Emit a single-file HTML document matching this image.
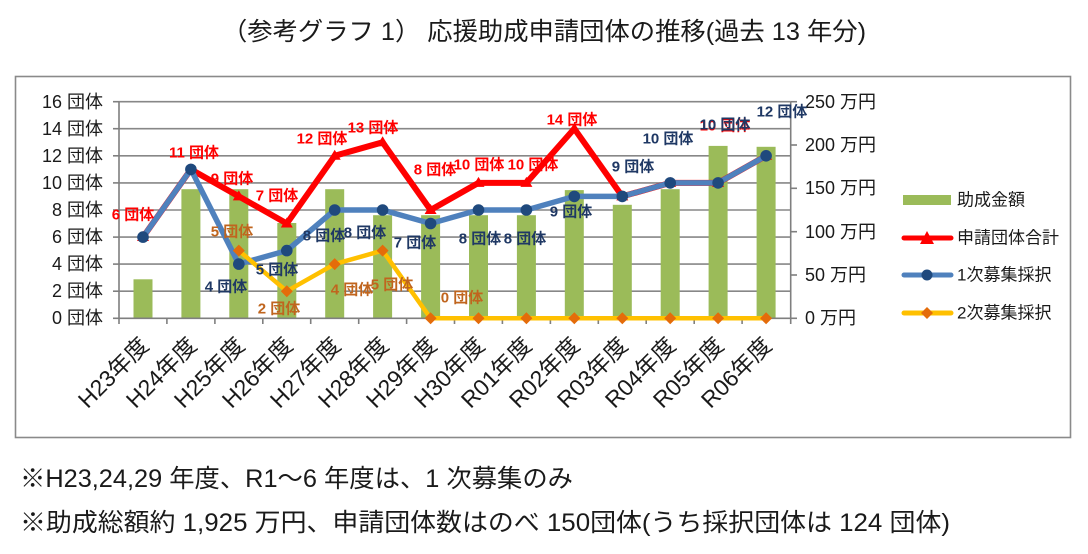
<!DOCTYPE html>
<html lang="ja">
<head>
<meta charset="utf-8">
<style>
  html, body { margin: 0; padding: 0; background: #ffffff; }
  body { width: 1088px; height: 554px; overflow: hidden; }
  svg { display: block; }
  text { font-family: "Liberation Sans", "Noto Sans CJK JP", sans-serif; }
  .ax { font-size: 18px; fill: #1a1a1a; }
  .lg { font-size: 17px; fill: #1a1a1a; }
  .xl { font-size: 23px; fill: #1a1a1a; }
  .dl { font-size: 15px; font-weight: bold; }
  .r { fill: #ff0000; }
  .b { fill: #1f3864; }
  .o { fill: #c0651e; }
</style>
</head>
<body>
<svg width="1088" height="554" viewBox="0 0 1088 554" xmlns="http://www.w3.org/2000/svg">
  <rect x="0" y="0" width="1088" height="554" fill="#ffffff"/>

  <!-- Title -->
  <text x="222" y="32" font-size="25" fill="#1a1a1a" dominant-baseline="central" textLength="644" lengthAdjust="spacingAndGlyphs">（参考グラフ 1） 応援助成申請団体の推移(過去 13 年分)</text>

  <!-- Chart border -->
  <rect x="15.5" y="76.5" width="1055" height="361" fill="none" stroke="#8a8a8a" stroke-width="1.6"/>

  <!-- Gridlines -->
  <g stroke="#878787" stroke-width="1.6">
    <line x1="119" y1="101.7" x2="790.7" y2="101.7"/>
    <line x1="119" y1="128.7" x2="790.7" y2="128.7"/>
    <line x1="119" y1="155.8" x2="790.7" y2="155.8"/>
    <line x1="119" y1="182.9" x2="790.7" y2="182.9"/>
    <line x1="119" y1="210.0" x2="790.7" y2="210.0"/>
    <line x1="119" y1="237.1" x2="790.7" y2="237.1"/>
    <line x1="119" y1="264.1" x2="790.7" y2="264.1"/>
    <line x1="119" y1="291.2" x2="790.7" y2="291.2"/>
  </g>

  <!-- Bars -->
  <g fill="#9bbb59">
    <rect x="133.5" y="279.3" width="19" height="39.0"/>
    <rect x="181.4" y="189.2" width="19" height="129.1"/>
    <rect x="229.3" y="189.2" width="19" height="129.1"/>
    <rect x="277.3" y="223.0" width="19" height="95.3"/>
    <rect x="325.2" y="189.2" width="19" height="129.1"/>
    <rect x="373.1" y="215.2" width="19" height="103.1"/>
    <rect x="421.1" y="215.2" width="19" height="103.1"/>
    <rect x="469.0" y="215.2" width="19" height="103.1"/>
    <rect x="516.9" y="215.2" width="19" height="103.1"/>
    <rect x="564.8" y="190.1" width="19" height="128.2"/>
    <rect x="612.8" y="204.8" width="19" height="113.5"/>
    <rect x="660.7" y="189.2" width="19" height="129.1"/>
    <rect x="708.6" y="145.9" width="19" height="172.4"/>
    <rect x="756.6" y="146.8" width="19" height="171.5"/>
  </g>

  <!-- Axes -->
  <g stroke="#7f7f7f" stroke-width="1.6">
    <line x1="119" y1="101.7" x2="119" y2="318.3"/>
    <line x1="790.7" y1="101.7" x2="790.7" y2="318.3"/>
    <line x1="119" y1="318.3" x2="790.7" y2="318.3"/>
    <line x1="113" y1="101.7" x2="119" y2="101.7"/>
    <line x1="113" y1="128.7" x2="119" y2="128.7"/>
    <line x1="113" y1="155.8" x2="119" y2="155.8"/>
    <line x1="113" y1="182.9" x2="119" y2="182.9"/>
    <line x1="113" y1="210.0" x2="119" y2="210.0"/>
    <line x1="113" y1="237.1" x2="119" y2="237.1"/>
    <line x1="113" y1="264.1" x2="119" y2="264.1"/>
    <line x1="113" y1="291.2" x2="119" y2="291.2"/>
    <line x1="113" y1="318.3" x2="119" y2="318.3"/>
    <line x1="790.7" y1="101.7" x2="797" y2="101.7"/>
    <line x1="790.7" y1="145.0" x2="797" y2="145.0"/>
    <line x1="790.7" y1="188.3" x2="797" y2="188.3"/>
    <line x1="790.7" y1="231.7" x2="797" y2="231.7"/>
    <line x1="790.7" y1="275.0" x2="797" y2="275.0"/>
    <line x1="790.7" y1="318.3" x2="797" y2="318.3"/>
    <line x1="119.0" y1="318.3" x2="119.0" y2="324"/>
    <line x1="166.9" y1="318.3" x2="166.9" y2="324"/>
    <line x1="214.9" y1="318.3" x2="214.9" y2="324"/>
    <line x1="262.8" y1="318.3" x2="262.8" y2="324"/>
    <line x1="310.7" y1="318.3" x2="310.7" y2="324"/>
    <line x1="358.7" y1="318.3" x2="358.7" y2="324"/>
    <line x1="406.6" y1="318.3" x2="406.6" y2="324"/>
    <line x1="454.5" y1="318.3" x2="454.5" y2="324"/>
    <line x1="502.4" y1="318.3" x2="502.4" y2="324"/>
    <line x1="550.4" y1="318.3" x2="550.4" y2="324"/>
    <line x1="598.3" y1="318.3" x2="598.3" y2="324"/>
    <line x1="646.2" y1="318.3" x2="646.2" y2="324"/>
    <line x1="694.2" y1="318.3" x2="694.2" y2="324"/>
    <line x1="742.1" y1="318.3" x2="742.1" y2="324"/>
    <line x1="790.7" y1="318.3" x2="790.7" y2="324"/>
  </g>

  <!-- Left axis labels -->
  <g class="ax" text-anchor="end" dominant-baseline="central">
    <text x="103" y="102">16 団体</text>
    <text x="103" y="129">14 団体</text>
    <text x="103" y="156">12 団体</text>
    <text x="103" y="183">10 団体</text>
    <text x="103" y="210">8 団体</text>
    <text x="103" y="237">6 団体</text>
    <text x="103" y="264">4 団体</text>
    <text x="103" y="291">2 団体</text>
    <text x="103" y="318">0 団体</text>
  </g>

  <!-- Right axis labels -->
  <g class="ax" dominant-baseline="central">
    <text x="805" y="102">250 万円</text>
    <text x="805" y="145">200 万円</text>
    <text x="805" y="188">150 万円</text>
    <text x="805" y="232">100 万円</text>
    <text x="805" y="275">50 万円</text>
    <text x="805" y="318">0 万円</text>
  </g>

  <!-- Red series -->
  <polyline fill="none" stroke="#ff0000" stroke-width="6" stroke-linejoin="round"
    points="143.0,237.1 190.9,169.4 238.8,196.4 286.8,223.5 334.7,155.8 382.6,142.3 430.6,210.0 478.5,182.9 526.4,182.9 574.3,128.7 622.3,196.4 670.2,182.9 718.1,182.9 766.1,155.8"/>
  <g fill="#ff0000">
    <polygon points="137,241 149,241 143,231"/>
    <polygon points="184.9,173.4 196.9,173.4 190.9,163.4"/>
    <polygon points="232.8,200.4 244.8,200.4 238.8,190.4"/>
    <polygon points="280.8,227.5 292.8,227.5 286.8,217.5"/>
    <polygon points="328.7,159.8 340.7,159.8 334.7,149.8"/>
    <polygon points="376.6,146.3 388.6,146.3 382.6,136.3"/>
    <polygon points="424.6,214.0 436.6,214.0 430.6,204.0"/>
    <polygon points="472.5,186.9 484.5,186.9 478.5,176.9"/>
    <polygon points="520.4,186.9 532.4,186.9 526.4,176.9"/>
    <polygon points="568.3,132.7 580.3,132.7 574.3,122.7"/>
    <polygon points="616.3,200.4 628.3,200.4 622.3,190.4"/>
    <polygon points="664.2,186.9 676.2,186.9 670.2,176.9"/>
    <polygon points="712.1,186.9 724.1,186.9 718.1,176.9"/>
    <polygon points="760.1,159.8 772.1,159.8 766.1,149.8"/>
  </g>

  <!-- Blue series -->
  <polyline fill="none" stroke="#4f81bd" stroke-width="5.5" stroke-linejoin="round"
    points="143.0,237.1 190.9,169.4 238.8,264.1 286.8,250.6 334.7,210.0 382.6,210.0 430.6,223.5 478.5,210.0 526.4,210.0 574.3,196.4 622.3,196.4 670.2,182.9 718.1,182.9 766.1,155.8"/>
  <g fill="#1f497d">
    <circle cx="143.0" cy="237.1" r="5.8"/>
    <circle cx="190.9" cy="169.4" r="5.8"/>
    <circle cx="238.8" cy="264.1" r="5.8"/>
    <circle cx="286.8" cy="250.6" r="5.8"/>
    <circle cx="334.7" cy="210.0" r="5.8"/>
    <circle cx="382.6" cy="210.0" r="5.8"/>
    <circle cx="430.6" cy="223.5" r="5.8"/>
    <circle cx="478.5" cy="210.0" r="5.8"/>
    <circle cx="526.4" cy="210.0" r="5.8"/>
    <circle cx="574.3" cy="196.4" r="5.8"/>
    <circle cx="622.3" cy="196.4" r="5.8"/>
    <circle cx="670.2" cy="182.9" r="5.8"/>
    <circle cx="718.1" cy="182.9" r="5.8"/>
    <circle cx="766.1" cy="155.8" r="5.8"/>
  </g>

  <!-- Yellow series -->
  <polyline fill="none" stroke="#ffc000" stroke-width="4.5" stroke-linejoin="round"
    points="238.8,250.6 286.8,291.2 334.7,264.1 382.6,250.6 430.6,318.3 478.5,318.3 526.4,318.3 574.3,318.3 622.3,318.3 670.2,318.3 718.1,318.3 766.1,318.3"/>
  <g fill="#e46c0a">
    <polygon points="238.8,244.6 244.8,250.6 238.8,256.6 232.8,250.6"/>
    <polygon points="286.8,285.2 292.8,291.2 286.8,297.2 280.8,291.2"/>
    <polygon points="334.7,258.1 340.7,264.1 334.7,270.1 328.7,264.1"/>
    <polygon points="382.6,244.6 388.6,250.6 382.6,256.6 376.6,250.6"/>
    <polygon points="430.6,312.3 436.6,318.3 430.6,324.3 424.6,318.3"/>
    <polygon points="478.5,312.3 484.5,318.3 478.5,324.3 472.5,318.3"/>
    <polygon points="526.4,312.3 532.4,318.3 526.4,324.3 520.4,318.3"/>
    <polygon points="574.3,312.3 580.3,318.3 574.3,324.3 568.3,318.3"/>
    <polygon points="622.3,312.3 628.3,318.3 622.3,324.3 616.3,318.3"/>
    <polygon points="670.2,312.3 676.2,318.3 670.2,324.3 664.2,318.3"/>
    <polygon points="718.1,312.3 724.1,318.3 718.1,324.3 712.1,318.3"/>
    <polygon points="766.1,312.3 772.1,318.3 766.1,324.3 760.1,318.3"/>
  </g>

  <!-- Data labels -->
  <g class="dl" text-anchor="middle" dominant-baseline="central">
    <text class="r" x="133" y="215">6 団体</text>
    <text class="r" x="194" y="153">11 団体</text>
    <text class="r" x="232" y="179">9 団体</text>
    <text class="r" x="277" y="196">7 団体</text>
    <text class="r" x="322" y="139">12 団体</text>
    <text class="r" x="373" y="128">13 団体</text>
    <text class="r" x="435" y="170">8 団体</text>
    <text class="r" x="479" y="165">10 団体</text>
    <text class="r" x="533" y="165">10 団体</text>
    <text class="r" x="572" y="120">14 団体</text>
    <text class="r" x="725" y="125.8">10 団体</text>

    <text class="b" x="226" y="287">4 団体</text>
    <text class="b" x="277" y="270">5 団体</text>
    <text class="b" x="324" y="236">8 団体</text>
    <text class="b" x="365" y="233">8 団体</text>
    <text class="b" x="415" y="243">7 団体</text>
    <text class="b" x="480" y="239">8 団体</text>
    <text class="b" x="525" y="239">8 団体</text>
    <text class="b" x="571" y="212">9 団体</text>
    <text class="b" x="633" y="167">9 団体</text>
    <text class="b" x="668" y="139">10 団体</text>
    <text class="b" x="725" y="125">10 団体</text>
    <text class="b" x="782" y="112">12 団体</text>

    <text class="o" x="232" y="232">5 団体</text>
    <text class="o" x="279" y="309">2 団体</text>
    <text class="o" x="352" y="290">4 団体</text>
    <text class="o" x="392" y="285">5 団体</text>
    <text class="o" x="462" y="298">0 団体</text>
  </g>

  <!-- X labels -->
  <g class="xl" text-anchor="end">
    <text transform="translate(150,347) rotate(-45)">H23年度</text>
    <text transform="translate(198,347) rotate(-45)">H24年度</text>
    <text transform="translate(246,347) rotate(-45)">H25年度</text>
    <text transform="translate(294,347) rotate(-45)">H26年度</text>
    <text transform="translate(342,347) rotate(-45)">H27年度</text>
    <text transform="translate(390,347) rotate(-45)">H28年度</text>
    <text transform="translate(438,347) rotate(-45)">H29年度</text>
    <text transform="translate(486,347) rotate(-45)">H30年度</text>
    <text transform="translate(533,347) rotate(-45)">R01年度</text>
    <text transform="translate(581,347) rotate(-45)">R02年度</text>
    <text transform="translate(629,347) rotate(-45)">R03年度</text>
    <text transform="translate(677,347) rotate(-45)">R04年度</text>
    <text transform="translate(725,347) rotate(-45)">R05年度</text>
    <text transform="translate(773,347) rotate(-45)">R06年度</text>
  </g>

  <!-- Legend -->
  <rect x="903" y="195" width="48" height="10" fill="#9bbb59"/>
  <text class="lg" x="957" y="200" dominant-baseline="central">助成金額</text>

  <line x1="904" y1="238" x2="951" y2="238" stroke="#ff0000" stroke-width="5" stroke-linecap="round"/>
  <polygon points="920,244 934,244 927,231" fill="#ff0000"/>
  <text class="lg" x="957" y="238" dominant-baseline="central">申請団体合計</text>

  <line x1="904" y1="275" x2="951" y2="275" stroke="#4f81bd" stroke-width="5" stroke-linecap="round"/>
  <circle cx="927" cy="275" r="5.5" fill="#1f497d"/>
  <text class="lg" x="957" y="275" dominant-baseline="central">1次募集採択</text>

  <line x1="904" y1="313" x2="951" y2="313" stroke="#ffc000" stroke-width="5" stroke-linecap="round"/>
  <polygon points="927,307 933,313 927,319 921,313" fill="#e46c0a"/>
  <text class="lg" x="957" y="313" dominant-baseline="central">2次募集採択</text>

  <!-- Notes -->
  <text x="20" y="479" font-size="25" fill="#1a1a1a" dominant-baseline="central" textLength="553" lengthAdjust="spacingAndGlyphs">※H23,24,29 年度、R1～6 年度は、1 次募集のみ</text>
  <text x="20" y="523" font-size="25" fill="#1a1a1a" dominant-baseline="central" textLength="930" lengthAdjust="spacingAndGlyphs">※助成総額約 1,925 万円、申請団体数はのべ 150団体(うち採択団体は 124 団体)</text>
</svg>
</body>
</html>
